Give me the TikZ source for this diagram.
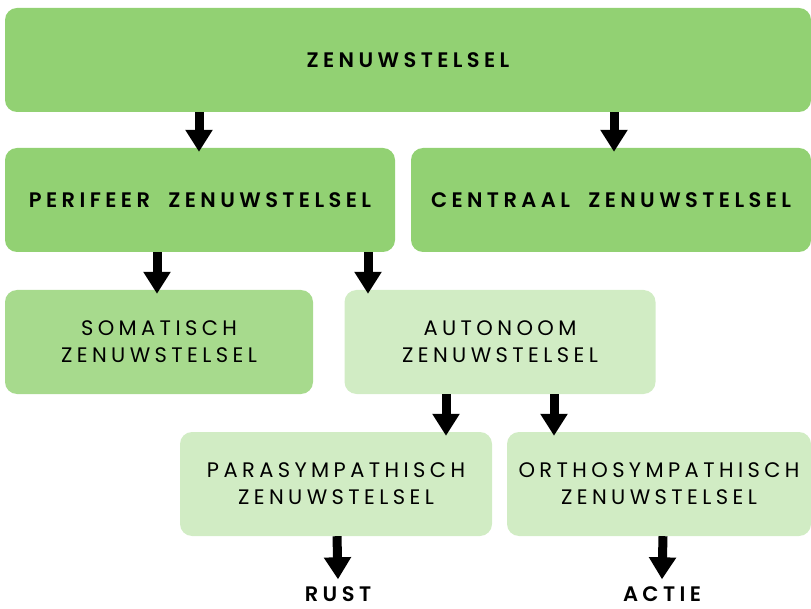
\documentclass[tikz,border=0pt]{standalone}
\usepackage{fontspec}
\setmainfont{Poppins}[LetterSpace=21, BoldFont={Poppins SemiBold}]
\usetikzlibrary{arrows.meta}
\definecolor{groendonker}{HTML}{92D173}
\definecolor{groenmidden}{HTML}{A7DA8D}
\definecolor{groenlicht}{HTML}{D1ECC4}
\tikzset{
  blok/.style={rounded corners=12pt, minimum width=#1, minimum height=104pt,
    inner sep=0pt, align=center, font=\fontsize{21}{27}\selectfont},
  pijl/.style={line width=9pt, -{Triangle[width=26pt,length=22pt]}},
  einde/.style={font=\fontsize{21}{22}\selectfont\bfseries, inner sep=0pt}
}
\begin{document}
\begin{tikzpicture}[x=1pt,y=-1pt]
    \useasboundingbox (0,0) rectangle (811,609);
    \node[blok=806pt, fill=groendonker] (zenuw) at (408,60) {\bfseries ZENUWSTELSEL};
    \node[blok=390pt, fill=groendonker] (perif) at (200,200) {\bfseries PERIFEER\hspace{9pt} ZENUWSTELSEL};
    \node[blok=400pt, fill=groendonker] (centr) at (611,200) {\bfseries CENTRAAL\hspace{9pt} ZENUWSTELSEL};
    \node[blok=308pt, fill=groenmidden] (somat) at (159,342) {SOMATISCH\\ZENUWSTELSEL};
    \node[blok=311pt, fill=groenlicht] (auton) at (500,342) {AUTONOOM\\ZENUWSTELSEL};
    \node[blok=312pt, fill=groenlicht] (paras) at (336,484) {PARASYMPATHISCH\\ZENUWSTELSEL};
    \node[blok=304pt, fill=groenlicht] (ortho) at (659,484) {ORTHOSYMPATHISCH\\ZENUWSTELSEL};
    \node[einde] (rust) at (338,594) {RUST};
    \node[einde] (actie) at (662,594) {ACTIE};

    \draw[pijl] ([xshift=-209pt]zenuw.south) -- ([xshift=-1pt,yshift=-4pt]perif.north);
    \draw[pijl] ([xshift=206pt]zenuw.south) -- ([xshift=3pt,yshift=-4pt]centr.north);
    \draw[pijl] ([xshift=-43pt]perif.south) -- ([xshift=-2pt,yshift=-4pt]somat.north);
    \draw[pijl] ([xshift=168pt]perif.south) -- ([xshift=-132pt,yshift=-4pt]auton.north);
    \draw[pijl] ([xshift=-54pt]auton.south) -- ([xshift=110pt,yshift=-4pt]paras.north);
    \draw[pijl] ([xshift=54pt]auton.south) -- ([xshift=-105pt,yshift=-4pt]ortho.north);
    \draw[pijl] ([xshift=1pt]paras.south) -- ([yshift=7pt]rust.north);
    \draw[pijl] ([xshift=4pt]ortho.south) -- ([yshift=7pt]actie.north);
\end{tikzpicture}
\end{document}
